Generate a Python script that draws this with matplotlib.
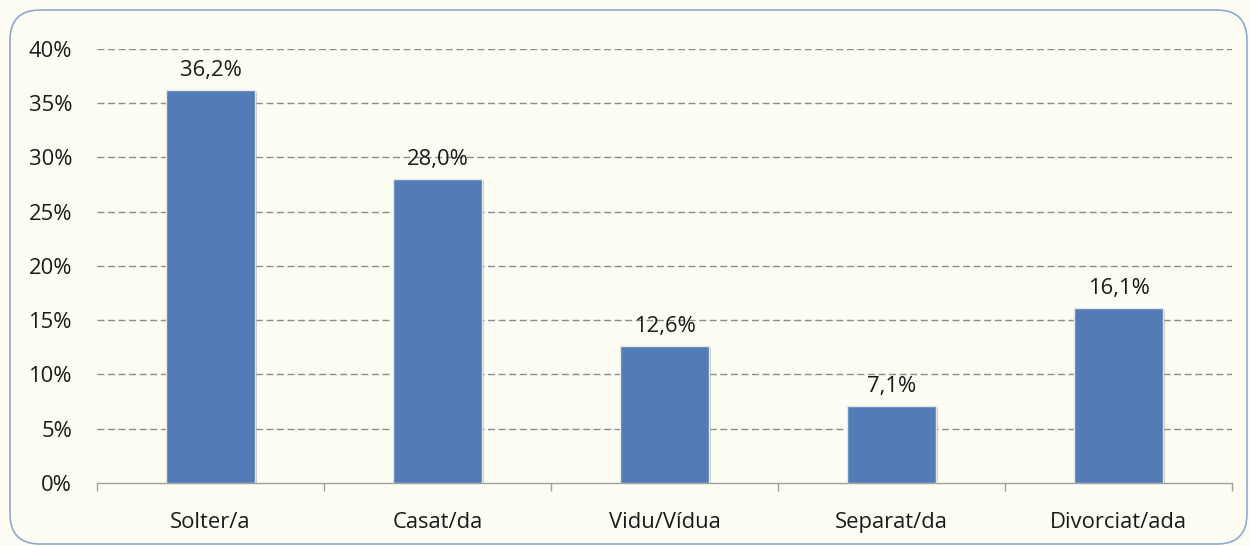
import matplotlib
matplotlib.use("Agg")
import matplotlib.pyplot as plt
from matplotlib.patches import FancyBboxPatch
import matplotlib.patheffects as pe
import numpy as np

categories = ["Solter/a", "Casat/da", "Vidu/Vídua", "Separat/da", "Divorciat/ada"]
values = [36.2, 28.0, 12.6, 7.1, 16.1]
labels = ["36,2%", "28,0%", "12,6%", "7,1%", "16,1%"]
yticks = [0, 5, 10, 15, 20, 25, 30, 35, 40]
ytick_labels = ["0%", "5%", "10%", "15%", "20%", "25%", "30%", "35%", "40%"]

plt.rcParams['font.family'] = ['Open Sans', 'DejaVu Sans']
FS = 15.8
bg = "#FDFDF3"
W, H = 1250, 546
fig = plt.figure(figsize=(12.5, 5.46), dpi=100, facecolor=bg)
border = FancyBboxPatch((10 / W, 2 / H), 1237 / W, 534 / H,
                        boxstyle="round,pad=0,rounding_size=%f" % (30 / W),
                        transform=fig.transFigure, facecolor=bg, edgecolor="#8EA9D0",
                        linewidth=1.2, mutation_aspect=W / H, zorder=-5)
fig.patches.append(border)

ax = fig.add_axes([0.0776, 0.1154, 0.908, 0.7949])
ax.set_facecolor("none")
x = np.arange(len(categories))
ax.bar(x, values, width=0.39, color="#537BB5", edgecolor="#E8E8E8", linewidth=1.0, zorder=3,
       path_effects=[pe.SimplePatchShadow(offset=(1.5, -1.5), shadow_rgbFace="#999999", alpha=0.5),
                     pe.Normal()])
for xi, v, lab in zip(x, values, labels):
    ax.annotate(lab, (xi, v), xytext=(0, 6.5), textcoords="offset points",
                ha="center", va="bottom", fontsize=FS, color="#1a1a1a", zorder=4)

ax.set_xlim(-0.5, len(categories) - 0.5)
ax.set_ylim(0, 40)
ax.set_yticks(yticks)
ax.set_yticklabels(ytick_labels)
for y in yticks[1:]:
    ax.axhline(y, color="#8C8C8C", linestyle=(0, (5, 2.6)), linewidth=1.0, zorder=1)
ax.tick_params(axis="y", length=0, pad=18, labelsize=FS, labelcolor="#1a1a1a")
ax.set_xticks(x)
ax.set_xticklabels(categories)
ax.tick_params(axis="x", length=0, pad=21, labelsize=FS, labelcolor="#1a1a1a")
ax.set_xticks(np.arange(-0.5, len(categories)), minor=True)
ax.tick_params(axis="x", which="minor", length=6, color="#A0A0A0", width=1.0, direction="out")
for s in ["top", "right", "left"]:
    ax.spines[s].set_visible(False)
ax.spines["bottom"].set_color("#A0A0A0")
ax.spines["bottom"].set_linewidth(1.0)

fig.savefig("out.png", dpi=100, facecolor=bg)
